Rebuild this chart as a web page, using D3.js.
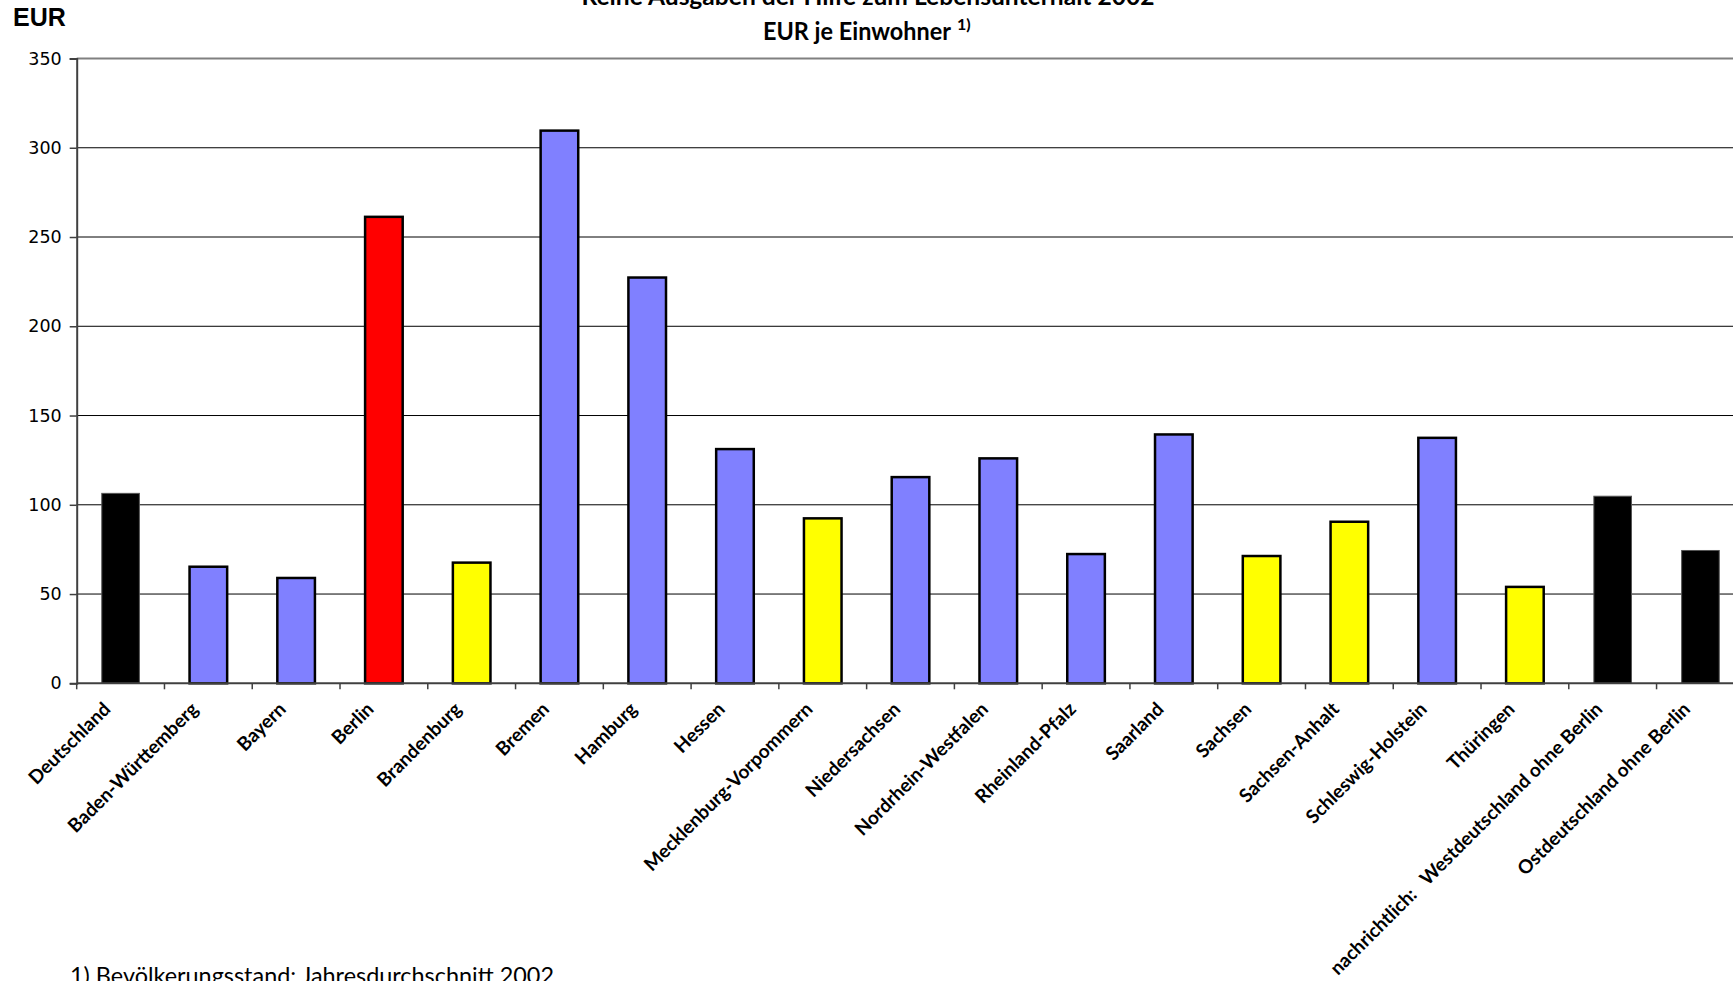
<!DOCTYPE html>
<html>
<head>
<meta charset="utf-8">
<script src="https://cdn.jsdelivr.net/npm/d3@7"></script>
<style>
  html, body { margin: 0; padding: 0; background: #fff; }
  svg { display: block; }
</style>
</head>
<body>
<svg id="chart" width="1733" height="981"></svg>
<script>
const categories = [
  "Deutschland", "Baden-Württemberg", "Bayern", "Berlin", "Brandenburg", "Bremen",
  "Hamburg", "Hessen", "Mecklenburg-Vorpommern", "Niedersachsen", "Nordrhein-Westfalen",
  "Rheinland-Pfalz", "Saarland", "Sachsen", "Sachsen-Anhalt", "Schleswig-Holstein",
  "Thüringen", "nachrichtlich:   Westdeutschland ohne Berlin", "Ostdeutschland ohne Berlin"
];
const values = [106.4, 65.3, 59.0, 261.3, 67.6, 309.6, 227.3, 131.2, 92.4, 115.5, 126.0,
  72.4, 139.4, 71.3, 90.5, 137.5, 54.0, 104.8, 74.4];
const groups = ["summe", "west", "west", "berlin", "ost", "west", "west", "west", "ost", "west", "west",
  "west", "west", "ost", "ost", "west", "ost", "summe", "summe"];
const yTicks = [0, 50, 100, 150, 200, 250, 300, 350];
const titleLines = ["Reine Ausgaben der Hilfe zum Lebensunterhalt 2002", "EUR je Einwohner"];
const titleSup = "1)";
const yUnit = "EUR";
const footnote = "1) Bevölkerungsstand: Jahresdurchschnitt 2002";

(function () {
const fillColor = d3.scaleOrdinal()
  .domain(["summe", "west", "berlin", "ost"])
  .range(["#000000", "#8080FF", "#FF0000", "#FFFF00"]);

const svg = d3.select("#chart");
const plotLeft = 76.7, plotBottom = 683.3, plotTop = 58.5;
const n = categories.length;
const step = 87.77;

const x = d3.scaleBand().domain(categories)
  .range([plotLeft, plotLeft + n * step])
  .paddingInner(0.5716).paddingOuter(0.2858);
const y = d3.scaleLinear().domain([0, 350]).range([plotBottom, plotTop]);

// gridlines
svg.append("g").selectAll("line").data(yTicks.filter(t => t > 0)).join("line")
  .attr("x1", plotLeft).attr("x2", 1733)
  .attr("y1", d => y(d)).attr("y2", d => y(d))
  .attr("stroke", d => d === 350 ? "#808080" : "#000")
  .attr("stroke-width", d => d === 350 ? 2 : 1);

// bars
svg.append("g").selectAll("rect").data(categories).join("rect")
  .attr("x", d => x(d))
  .attr("width", x.bandwidth())
  .attr("y", (d, i) => y(values[i]))
  .attr("height", (d, i) => y(0) - y(values[i]))
  .attr("fill", (d, i) => fillColor(groups[i]))
  .attr("stroke", (d, i) => groups[i] === "summe" ? "#555" : "#000")
  .attr("stroke-width", (d, i) => groups[i] === "summe" ? 1 : 2.5);

// y axis
const yAxis = svg.append("g")
  .attr("transform", `translate(${plotLeft},0)`)
  .call(d3.axisLeft(y).tickValues(yTicks).tickSize(7).tickPadding(8));
yAxis.select(".domain").attr("stroke", "#404040").attr("stroke-width", 2);
yAxis.selectAll(".tick line").attr("stroke", "#404040").attr("stroke-width", 1.5);
yAxis.selectAll(".tick text")
  .attr("font-family", "'DejaVu Sans', Verdana, sans-serif")
  .attr("font-size", 17.5).attr("fill", "#000");

// x axis line and boundary ticks
const boundaries = d3.range(n + 1).map(i => x.range()[0] + i * x.step());
svg.append("line")
  .attr("x1", plotLeft).attr("x2", 1733)
  .attr("y1", plotBottom).attr("y2", plotBottom)
  .attr("stroke", "#404040").attr("stroke-width", 2);
svg.append("g").selectAll("line").data(boundaries).join("line")
  .attr("x1", d => d).attr("x2", d => d)
  .attr("y1", plotBottom).attr("y2", plotBottom + 6)
  .attr("stroke", "#404040").attr("stroke-width", 1.5);

// x labels
svg.append("g").selectAll("text").data(categories).join("text")
  .attr("transform", d => `translate(${x(d) + x.bandwidth() / 2 - 9},${plotBottom + 27}) rotate(-45)`)
  .attr("text-anchor", "end")
  .attr("font-family", "Lato, 'Open Sans', sans-serif")
  .attr("font-weight", "bold")
  .attr("font-size", 19)
  .style("white-space", "pre")
  .attr("fill", "#000")
  .text(d => d);

// EUR unit label
svg.append("text")
  .attr("x", 13).attr("y", 26)
  .attr("font-family", "'Liberation Sans', Arial, sans-serif")
  .attr("font-weight", "bold").attr("font-size", 25)
  .text(yUnit);

// title
const titleFont = "Lato, 'Open Sans', sans-serif";
svg.append("text")
  .attr("x", 868).attr("y", 5)
  .attr("text-anchor", "middle")
  .attr("font-family", titleFont).attr("font-weight", "bold").attr("font-size", 24)
  .attr("textLength", 573).attr("lengthAdjust", "spacingAndGlyphs")
  .text(titleLines[0]);
const t2 = svg.append("text")
  .attr("x", 763).attr("y", 40)
  .attr("font-family", titleFont).attr("font-weight", "bold").attr("font-size", 24);
t2.append("tspan").attr("textLength", 188).attr("lengthAdjust", "spacingAndGlyphs").text(titleLines[1]);
t2.append("tspan").attr("dx", 6).attr("dy", -10).attr("font-size", 16).text(titleSup);

// footnote
svg.append("text")
  .attr("x", 70).attr("y", 984)
  .attr("font-family", titleFont).attr("font-size", 23)
  .attr("textLength", 484).attr("lengthAdjust", "spacingAndGlyphs")
  .text(footnote);
})();
</script>
</body>
</html>
